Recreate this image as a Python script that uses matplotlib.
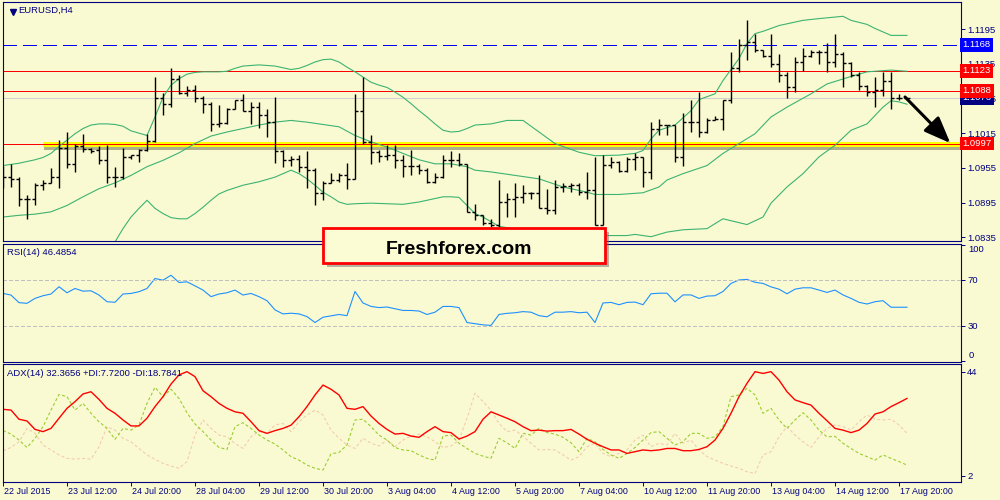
import matplotlib
matplotlib.use('Agg')
from matplotlib import pyplot as plt
from matplotlib import patheffects as pe
from matplotlib import transforms as mtransforms
from matplotlib.patches import Rectangle
import numpy as np

plt.rcParams['font.family'] = ['Liberation Sans', 'DejaVu Sans']
plt.rcParams['lines.scale_dashes'] = False

BG = '#fafad2'
NAVY = '#000080'

# EURUSD H4 bars, 22 Jul 2015 .. 18 Aug 2015
opens = [1.0942, 1.0939, 1.0936, 1.0902, 1.0902, 1.0925, 1.0929, 1.0940, 1.0990, 1.0961,
         1.0992, 1.0988, 1.0986, 1.0968, 1.0939, 1.0939, 1.0974, 1.0977, 1.0986, 1.1001,
         1.1075, 1.1066, 1.1109, 1.1084, 1.1090, 1.1076, 1.1066, 1.1031, 1.1033, 1.1056,
         1.1072, 1.1054, 1.1061, 1.1046, 1.1034, 1.0985, 1.0968, 1.0971, 1.0957, 1.0951,
         1.0911, 1.0929, 1.0934, 1.0942, 1.0935, 1.1053, 1.1000, 1.0982, 1.0975, 1.0977,
         1.0969, 1.0958, 1.0958, 1.0951, 1.0931, 1.0940, 1.0968, 1.0968, 1.0961, 1.0879,
         1.0873, 1.0859, 1.0856, 1.0896, 1.0902, 1.0905, 1.0912, 1.0911, 1.0885, 1.0882,
         1.0922, 1.0923, 1.0925, 1.0913, 1.0916, 1.0856, 1.0960, 1.0965, 1.0949, 1.0971,
         1.0974, 1.0948, 1.1023, 1.1029, 1.1029, 1.0974, 1.1034, 1.1035, 1.1017, 1.1037,
         1.1040, 1.1072, 1.1128, 1.1167, 1.1172, 1.1158, 1.1149, 1.1134, 1.1115, 1.1095,
         1.1138, 1.1148, 1.1155, 1.1155, 1.1138, 1.1152, 1.1136, 1.1115, 1.1096, 1.1086,
         1.1089, 1.1105, 1.1075, 1.1075]
highs = [1.0959, 1.0962, 1.0939, 1.0908, 1.0929, 1.0934, 1.0954, 1.1003, 1.1017, 1.0997,
         1.1013, 1.0990, 1.0992, 1.0994, 1.0957, 1.0990, 1.0978, 1.0987, 1.1013, 1.1112,
         1.1084, 1.1127, 1.1115, 1.1096, 1.1098, 1.1079, 1.1069, 1.1063, 1.1058, 1.1073,
         1.1082, 1.1069, 1.1069, 1.1056, 1.1077, 1.0986, 1.0975, 1.0977, 1.0984, 1.0954,
         1.0932, 1.0946, 1.0946, 1.0963, 1.1083, 1.1112, 1.1011, 1.0986, 1.0994, 1.0994,
         1.0978, 1.0986, 1.0962, 1.0954, 1.0946, 1.0977, 1.0985, 1.0981, 1.0961, 1.0892,
         1.0873, 1.0867, 1.0934, 1.0912, 1.0928, 1.0925, 1.0913, 1.0942, 1.0919, 1.0934,
         1.0928, 1.0928, 1.0928, 1.0948, 1.0974, 1.0977, 1.0974, 1.0967, 1.0974, 1.0980,
         1.0974, 1.1034, 1.1040, 1.1029, 1.1029, 1.1049, 1.1072, 1.1087, 1.1042, 1.1044,
         1.1073, 1.1155, 1.1177, 1.1211, 1.1186, 1.1159, 1.1186, 1.1152, 1.1121, 1.1147,
         1.1163, 1.1158, 1.1158, 1.1170, 1.1186, 1.1155, 1.1138, 1.1121, 1.1099, 1.1112,
         1.1121, 1.1121, 1.1083, 1.1076]
lows = [1.0920, 1.0922, 1.0889, 1.0867, 1.0890, 1.0917, 1.0928, 1.0920, 1.0955, 1.0948,
        1.0982, 1.0981, 1.0962, 1.0928, 1.0922, 1.0936, 1.0971, 1.0965, 1.0985, 1.1000,
        1.1047, 1.1060, 1.1083, 1.1080, 1.1069, 1.1049, 1.1019, 1.1026, 1.1031, 1.1056,
        1.1053, 1.1030, 1.1024, 1.1008, 1.0963, 1.0957, 1.0959, 1.0948, 1.0921, 1.0890,
        1.0899, 1.0928, 1.0931, 1.0919, 1.0935, 1.0997, 1.0962, 1.0965, 1.0968, 1.0954,
        1.0939, 1.0942, 1.0945, 1.0929, 1.0929, 1.0938, 1.0957, 1.0958, 1.0879, 1.0865,
        1.0856, 1.0853, 1.0853, 1.0870, 1.0870, 1.0895, 1.0902, 1.0885, 1.0875, 1.0875,
        1.0913, 1.0913, 1.0908, 1.0902, 1.0856, 1.0856, 1.0954, 1.0948, 1.0948, 1.0951,
        1.0922, 1.0936, 1.1011, 1.1011, 1.0965, 1.0958, 1.1017, 1.1008, 1.1015, 1.1037,
        1.1021, 1.1067, 1.1121, 1.1142, 1.1155, 1.1147, 1.1130, 1.1103, 1.1076, 1.1086,
        1.1122, 1.1147, 1.1135, 1.1121, 1.1130, 1.1095, 1.1112, 1.1089, 1.1080, 1.1060,
        1.1080, 1.1056, 1.1072, 1.1072]
closes = [1.0939, 1.0936, 1.0902, 1.0902, 1.0925, 1.0928, 1.0940, 1.0990, 1.0961, 1.0992,
          1.0988, 1.0985, 1.0968, 1.0939, 1.0939, 1.0974, 1.0977, 1.0986, 1.1001, 1.1075,
          1.1066, 1.1109, 1.1084, 1.1090, 1.1076, 1.1066, 1.1031, 1.1033, 1.1056, 1.1072,
          1.1054, 1.1061, 1.1046, 1.1034, 1.0985, 1.0968, 1.0971, 1.0957, 1.0951, 1.0911,
          1.0929, 1.0934, 1.0942, 1.0935, 1.1053, 1.1000, 1.0982, 1.0975, 1.0977, 1.0969,
          1.0958, 1.0958, 1.0951, 1.0931, 1.0940, 1.0968, 1.0968, 1.0961, 1.0879, 1.0873,
          1.0859, 1.0856, 1.0896, 1.0902, 1.0905, 1.0912, 1.0911, 1.0885, 1.0882, 1.0922,
          1.0923, 1.0925, 1.0913, 1.0916, 1.0856, 1.0960, 1.0965, 1.0949, 1.0971, 1.0974,
          1.0948, 1.1023, 1.1029, 1.1029, 1.0974, 1.1034, 1.1035, 1.1017, 1.1037, 1.1040,
          1.1072, 1.1128, 1.1167, 1.1172, 1.1158, 1.1149, 1.1134, 1.1115, 1.1095, 1.1138,
          1.1148, 1.1155, 1.1155, 1.1138, 1.1152, 1.1136, 1.1115, 1.1096, 1.1086, 1.1089,
          1.1105, 1.1075, 1.1075, 1.1076]

# Bollinger bands (bar index, price)
upper_idx = [0, 2, 4] + list(range(5, 60)) + [61, 63, 65, 67, 69, 72, 74, 77, 79, 80, 81, 82, 84, 86, 87,
                                               89, 90, 92, 93, 94, 95, 97, 100, 102, 105, 106, 108, 109, 111, 113]
upper_val = [1.0959, 1.0963, 1.0969,
             1.0973, 1.0980, 1.0992, 1.1003, 1.1014, 1.1023, 1.1029, 1.1031, 1.1031, 1.1030,
             1.1027, 1.1019, 1.1015, 1.1011, 1.1043, 1.1077, 1.1098, 1.1109, 1.1117, 1.1120,
             1.1121, 1.1121, 1.1121, 1.1122, 1.1127, 1.1131, 1.1132, 1.1133, 1.1132, 1.1131,
             1.1128, 1.1125, 1.1127, 1.1132, 1.1138, 1.1142, 1.1143, 1.1138, 1.1129, 1.1121,
             1.1112, 1.1103, 1.1098, 1.1094, 1.1086, 1.1077, 1.1066, 1.1054, 1.1043, 1.1031,
             1.1020, 1.1017, 1.1018, 1.1023, 1.1029,
             1.1031, 1.1037, 1.1037, 1.1017, 1.0997, 1.0982, 1.0976, 1.0977, 1.0980, 1.0985,
             1.1005, 1.1020, 1.1029, 1.1054, 1.1073, 1.1083, 1.1106, 1.1144, 1.1170, 1.1187,
             1.1191, 1.1201, 1.1210, 1.1213, 1.1217, 1.1210, 1.1203, 1.1196, 1.1184, 1.1184]
mid_idx = list(range(0, 59, 2)) + [59, 61, 63, 67, 70, 73, 74, 77, 80, 82, 83, 85, 88, 90, 92, 94, 96,
                                   98, 101, 103, 106, 108, 111, 113]
mid_val = [1.0870, 1.0873, 1.0875, 1.0879, 1.0890, 1.0905, 1.0919, 1.0929, 1.0942, 1.0957,
           1.0968, 1.0981, 1.0997, 1.1010, 1.1017, 1.1023, 1.1029, 1.1034, 1.1037, 1.1034,
           1.1030, 1.1026, 1.1011, 1.1000, 1.0991, 1.0980, 1.0969, 1.0962, 1.0962, 1.0957,
           1.0951, 1.0948, 1.0944, 1.0936, 1.0922, 1.0913, 1.0909, 1.0909, 1.0912, 1.0922,
           1.0934, 1.0945, 1.0959, 1.0980, 1.0997, 1.1014, 1.1043, 1.1060, 1.1083, 1.1100,
           1.1113, 1.1121, 1.1124, 1.1122]
lower_idx = list(range(14, 29)) + [30, 32, 34] + list(range(35, 45)) + [46, 48, 50, 52, 54] + \
    list(range(55, 61)) + [62, 65, 67, 70, 73, 75, 78, 79, 81, 83, 85, 88, 90, 93, 95, 96, 98, 100,
                           102, 104, 106, 108, 110, 111, 112, 113]
lower_val = [1.0827, 1.0850, 1.0870, 1.0885, 1.0899, 1.0885, 1.0876, 1.0869, 1.0867, 1.0867,
             1.0876, 1.0887, 1.0899, 1.0910, 1.0916,
             1.0925, 1.0931, 1.0939,
             1.0945, 1.0951, 1.0945, 1.0936, 1.0925, 1.0913, 1.0905, 1.0896, 1.0892, 1.0893,
             1.0894, 1.0893, 1.0892, 1.0896, 1.0902,
             1.0905, 1.0905, 1.0904, 1.0890, 1.0876, 1.0870,
             1.0854, 1.0847, 1.0842, 1.0840, 1.0838, 1.0838, 1.0838, 1.0840, 1.0836, 1.0844,
             1.0848, 1.0850, 1.0867, 1.0857, 1.0870, 1.0894, 1.0922, 1.0945, 1.0974, 1.0994,
             1.1020, 1.1031, 1.1060, 1.1071, 1.1069, 1.1065]

rsi = [58.3, 56.9, 50.3, 49.7, 54.0, 56.3, 57.8, 64.1, 58.9, 62.6,
       60.3, 60.6, 56.9, 51.1, 50.6, 57.8, 58.3, 59.8, 62.6, 71.3,
       69.8, 74.1, 67.8, 68.4, 64.9, 61.2, 55.5, 57.8, 58.9, 61.2,
       56.9, 58.3, 55.5, 52.0, 44.0, 40.5, 41.1, 40.5, 38.2, 33.0,
       37.6, 38.8, 40.0, 39.0, 60.0, 50.0, 47.0, 46.0, 46.5, 45.0,
       43.5, 43.5, 43.0, 40.0, 42.0, 47.0, 47.0, 46.0, 33.0, 32.0,
       31.0, 30.5, 40.0, 41.0, 41.5, 42.5, 42.0, 39.0, 38.0, 42.0,
       42.0, 42.5, 41.5, 42.0, 33.0, 50.0, 50.5, 48.5, 50.5, 50.8,
       48.5, 58.0, 58.5, 58.5, 51.0, 57.0, 57.0, 54.0, 56.0, 56.3,
       60.0, 67.0, 70.0, 70.5, 68.0, 67.0, 64.0, 62.0, 58.0, 62.0,
       63.2, 63.2, 61.2, 59.2, 61.2, 57.0, 54.0, 50.6, 49.1, 51.1,
       52.0, 46.3, 46.3, 46.3]

adx = [28.8, 28.5, 24.8, 24.1, 20.7, 19.8, 21.1, 25.2, 29.2, 31.9,
       35.0, 35.9, 32.8, 29.2, 27.2, 24.5, 22.1, 22.1, 25.2, 29.9,
       33.9, 39.0, 42.7, 44.0, 42.0, 36.3, 33.9, 31.2, 29.2, 27.8,
       27.2, 23.8, 20.2, 19.1, 20.2, 21.1, 22.4, 25.8, 29.9, 34.6,
       38.6, 36.9, 34.6, 29.2, 28.8, 29.9, 26.1, 23.1, 20.7, 18.8,
       19.1, 18.0, 17.5, 19.8, 21.8, 19.8, 19.4, 16.8, 18.0, 19.8,
       24.8, 27.8, 26.5, 25.2, 23.8, 21.8, 20.2, 20.4, 20.0, 20.2,
       20.2, 20.7, 18.8, 16.7, 15.1, 13.7, 12.4, 12.4, 11.0, 11.7,
       12.4, 12.1, 12.4, 13.0, 13.0, 12.1, 12.1, 12.6, 13.7, 16.4,
       21.1, 27.2, 33.9, 39.3, 44.0, 43.3, 44.0, 40.6, 35.9, 32.6,
       31.5, 30.5, 27.2, 24.2, 21.1, 20.4, 19.4, 20.4, 23.1, 26.9,
       27.8, 29.9, 31.5, 33.2]
plus_di = [20.2, 18.8, 16.4, 13.4, 17.1, 21.8, 28.5, 34.8, 33.9, 28.5,
           31.2, 27.2, 23.8, 21.1, 16.7, 21.1, 20.4, 22.5, 31.2, 37.7,
           33.9, 36.9, 33.2, 27.4, 22.9, 19.8, 16.4, 13.4, 12.6, 21.8,
           23.4, 21.1, 18.4, 16.4, 14.8, 12.4, 9.7, 8.3, 6.3, 5.0,
           4.3, 10.8, 11.4, 14.4, 24.5, 24.8, 21.8, 18.4, 16.4, 13.4,
           12.4, 12.1, 10.4, 9.0, 8.3, 18.0, 18.4, 15.1, 13.0, 11.0,
           9.9, 9.0, 17.1, 15.3, 13.0, 19.1, 18.4, 21.1, 19.4, 18.8,
           17.5, 15.3, 11.7, 17.1, 15.7, 12.6, 10.4, 9.0, 11.0, 13.4,
           16.4, 19.4, 19.8, 17.1, 14.4, 15.7, 19.1, 19.1, 17.1, 17.7,
           21.8, 33.9, 34.6, 37.3, 34.6, 27.2, 29.2, 24.5, 21.1, 24.5,
           27.4, 24.5, 20.4, 17.7, 17.9, 15.1, 13.0, 11.0, 9.7, 8.3,
           10.4, 9.0, 7.7, 6.3]
minus_di = [12.1, 13.4, 15.7, 21.1, 19.1, 14.4, 12.4, 10.4, 9.0, 8.7,
            9.0, 8.7, 13.7, 21.8, 20.4, 17.1, 15.7, 13.0, 10.4, 8.6,
            7.0, 5.9, 5.0, 7.7, 18.4, 24.5, 21.1, 18.4, 17.7, 15.0,
            13.0, 17.7, 19.8, 19.1, 22.5, 23.1, 19.8, 23.8, 26.5, 28.5,
            26.5, 20.4, 17.1, 14.4, 13.0, 17.1, 15.1, 14.0, 16.4, 13.7,
            16.4, 18.0, 18.8, 17.7, 15.7, 13.4, 14.0, 16.4, 25.2, 35.3,
            31.9, 28.5, 23.1, 19.8, 20.4, 18.0, 15.1, 12.4, 12.6, 12.4,
            10.4, 8.3, 9.7, 13.7, 15.1, 11.0, 9.7, 11.0, 12.4, 16.4,
            18.4, 13.7, 15.1, 14.4, 19.1, 15.1, 16.4, 12.4, 9.7, 8.3,
            7.0, 5.9, 5.0, 3.6, 2.9, 10.4, 11.7, 17.7, 21.8, 18.4,
            15.7, 13.4, 17.7, 21.1, 22.5, 21.8, 20.4, 23.8, 26.5, 24.8,
            24.5, 24.8, 22.5, 19.1]

date_labels = ['22 Jul 2015', '23 Jul 12:00', '24 Jul 20:00', '28 Jul 04:00', '29 Jul 12:00',
               '30 Jul 20:00', '3 Aug 04:00', '4 Aug 12:00', '5 Aug 20:00', '7 Aug 04:00',
               '10 Aug 12:00', '11 Aug 20:00', '13 Aug 04:00', '14 Aug 12:00', '17 Aug 20:00']
price_ticks = [1.0835, 1.0895, 1.0955, 1.1015, 1.1075, 1.1135, 1.1195]

blue_level = 1.1168
red_levels = [1.1123, 1.1088]
bid = 1.1076
support = 1.0997

x = np.arange(len(closes))

fig = plt.figure(figsize=(10, 5), dpi=100, facecolor=BG)
ax_p = fig.add_axes([0.0025, 0.518, 0.9585, 0.478])
ax_r = fig.add_axes([0.0025, 0.2766, 0.9585, 0.2364])
ax_a = fig.add_axes([0.0025, 0.0366, 0.9585, 0.2354])

for ax in (ax_p, ax_r, ax_a):
    ax.set_facecolor(BG)
    ax.set_xlim(-0.0625, 119.75)
    for s in ax.spines.values():
        s.set_color(NAVY)
        s.set_linewidth(0.8)
    ax.yaxis.tick_right()
    ax.tick_params(axis='y', direction='out', length=3, width=0.7, color=NAVY,
                   labelcolor=NAVY, labelsize=6.8, pad=1.5, left=False)
    ax.tick_params(axis='x', bottom=False, labelbottom=False)

# ---- price window ----
ax_p.set_ylim(1.08286, 1.12417)
ax_p.set_yticks(price_ticks)
ax_p.set_yticklabels(['%.4f' % p for p in price_ticks])

# crisp one-pixel level lines, like the terminal draws them
ax_p.axhline(blue_level, color='#0000ff', lw=0.72, dashes=(9.4, 5.0), zorder=1, antialiased=False)
for lvl in red_levels:
    ax_p.axhline(lvl, color='#ff0000', lw=0.72, zorder=1, antialiased=False)
ax_p.axhline(bid, color='#d0d0d0', lw=0.72, zorder=1, antialiased=False)
ax_p.axhline(support, xmin=0.0443, color='#ffff00', lw=3.6, zorder=1.2,
             path_effects=[pe.SimpleLineShadow(offset=(0.5, -2.4), shadow_color='#404020', alpha=0.4),
                           pe.Normal()])
ax_p.axhline(support, color='#ff0000', lw=0.72, zorder=1.3, antialiased=False)

band_color = '#3cb371'
ax_p.plot(upper_idx, upper_val, color=band_color, lw=0.8, zorder=2)
ax_p.plot(mid_idx, mid_val, color=band_color, lw=0.8, zorder=2)
ax_p.plot(lower_idx, lower_val, color=band_color, lw=0.8, zorder=2)

ax_p.vlines(x, lows, highs, color='black', lw=1.0, zorder=3)
ax_p.hlines(opens, x - 0.375, x, color='black', lw=1.0, zorder=3)
ax_p.hlines(closes, x, x + 0.375, color='black', lw=1.0, zorder=3)

# price tags on the scale
trans = mtransforms.blended_transform_factory(ax_p.transAxes, ax_p.transData)
for price, color in [(blue_level, '#0000ff'), (red_levels[0], '#ff0000'), (bid, NAVY),
                     (red_levels[1], '#ff0000'), (support, '#ff0000')]:
    ax_p.text(1.0018, price, '%.4f' % price, transform=trans, ha='left', va='center',
              fontsize=6.8, color='white', clip_on=False, zorder=10,
              bbox=dict(boxstyle='square,pad=0.25', fc=color, ec='none'))

# forecast arrow
ann = ax_p.annotate('', xy=(118.4, 1.0998), xytext=(112.75, 1.10775),
                    arrowprops=dict(arrowstyle='-|>,head_length=0.8,head_width=0.32',
                                    mutation_scale=20, lw=2.2, color='black',
                                    shrinkA=0, shrinkB=0), annotation_clip=False, zorder=6)
ann.arrow_patch.set_path_effects([pe.SimplePatchShadow(offset=(2, -2), shadow_rgbFace='#555555', alpha=0.45),
                                  pe.Normal()])

fig.text(0.018, 1 - 10.7 / 500, 'EURUSD,H4', fontsize=6.8, color=NAVY, va='center')
ax_p.plot([0.0105], [0.957], marker='v', ms=4, color=NAVY, transform=ax_p.transAxes, clip_on=False)

# ---- RSI window ----
ax_r.set_ylim(-1.04, 101.7)
ax_r.plot(x, rsi, color='#1e90ff', lw=0.8)
for lvl in (70, 30):
    ax_r.axhline(lvl, color='#c0c0c0', lw=0.72, dashes=(2.2, 1.6), antialiased=False)
ax_r.set_yticks([100, 70, 30, 0])
ax_r.set_yticklabels(['', '70', '30', ''])
rtrans = mtransforms.blended_transform_factory(ax_r.transAxes, ax_r.transData)
ax_r.text(1.0075, 96.1, '100', transform=rtrans, fontsize=6.8, color=NAVY, va='center', clip_on=False)
ax_r.text(1.0075, 4.2, '0', transform=rtrans, fontsize=6.8, color=NAVY, va='center', clip_on=False)
fig.text(0.007, 1 - 252.7 / 500, 'RSI(14) 46.4854', fontsize=6.8, color=NAVY, va='center')

# ---- ADX window ----
ax_a.set_ylim(-0.42, 47.1)
ax_a.plot(x, minus_di, color='#f2cdb0', lw=0.8, dashes=(2.2, 1.6))
ax_a.plot(x, plus_di, color='#9acd32', lw=0.8, dashes=(2.2, 1.6))
ax_a.plot(x, adx, color='#ff0000', lw=1.0)
ax_a.set_yticks([44, 2])
ax_a.set_yticklabels(['44', '2'])
fig.text(0.007, 1 - 374 / 500, 'ADX(14) 32.3656 +DI:7.7200 -DI:18.7841', fontsize=6.8,
         color=NAVY, va='center')

ax_a.set_xticks(x[::8])
ax_a.set_xticklabels(date_labels, ha='left')
ax_a.tick_params(axis='x', bottom=True, labelbottom=True, direction='out', length=3, width=0.7,
                 color=NAVY, labelcolor=NAVY, labelsize=6.4, pad=1)
shift = mtransforms.ScaledTranslation(1.5 / 100, 0, fig.dpi_scale_trans)
for lab in ax_a.get_xticklabels():
    lab.set_transform(lab.get_transform() + shift)

# ---- watermark box ----
box = Rectangle((0.323, 0.4748), 0.2823, 0.0692, transform=fig.transFigure, fc='#fbfbd4',
                ec='#ff0000', lw=2.0, zorder=10)
box.set_path_effects([pe.SimplePatchShadow(offset=(3, -3), shadow_rgbFace='#707070', alpha=0.5),
                      pe.Normal()])
fig.add_artist(box)
fig.text(0.459, 1 - 254.3 / 500, 'Freshforex.com', fontsize=14, fontweight='bold', color='black',
         ha='center', va='baseline', zorder=11)

plt.savefig('out.png', dpi=100, facecolor=BG)
plt.close()
